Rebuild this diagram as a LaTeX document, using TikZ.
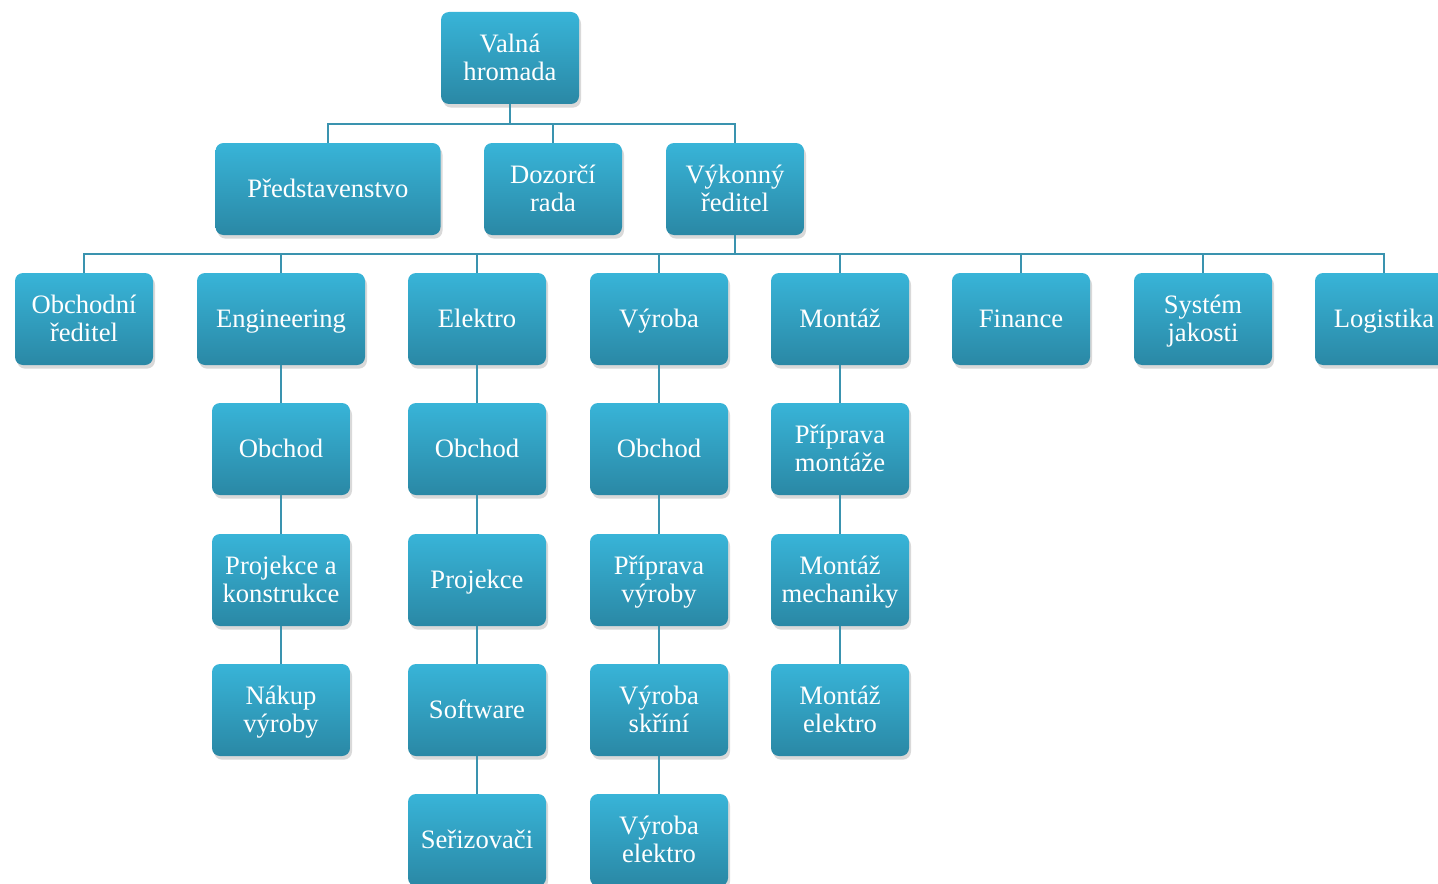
\documentclass[tikz,border=0pt]{standalone}
\usepackage{fontspec}
\setmainfont{Liberation Serif}
\usepackage{tikz}
\usetikzlibrary{shadows}

\definecolor{boxtop}{HTML}{38B4D8}
\definecolor{boxbot}{HTML}{2A88A5}
\definecolor{linkcol}{HTML}{3A93AF}

\tikzset{
  unit/.style={rectangle,rounded corners=4pt,top color=boxtop,bottom color=boxbot,
    draw=none,text=white,align=flush center,text width=64pt,minimum width=69pt,
    minimum height=46pt,inner sep=2pt,font=\fontsize{13.3}{14}\selectfont,
    execute at begin node={\rule{0pt}{12.8pt}},execute at end node=\strut,
    drop shadow={opacity=0.3,shadow xshift=1pt,shadow yshift=-1.8pt}},
  link/.style={draw=linkcol,line width=1pt}
}

\begin{document}
\begin{tikzpicture}[x=0.5pt,y=-0.5pt]
\useasboundingbox (0,0) rectangle (1438,883);
\clip (0,0) rectangle (1438,883);
% top level
\node [unit] (vh) at (510,58) {Valná\\hromada};
\node [unit,text width=106pt,minimum width=112.5pt] (pred) at (328,189) {Představenstvo};
\node [unit] (dozor) at (553,189) {Dozorčí\\rada};
\node [unit] (vyk) at (735,189) {Výkonný\\ředitel};
% departments
\node [unit] (obred) at (84,319) {Obchodní\\ředitel};
\node [unit,text width=80pt,minimum width=84pt] (eng) at (281,319) {Engineering};
\node [unit] (elek) at (477,319) {Elektro};
\node [unit] (vyr) at (659,319) {Výroba};
\node [unit] (mont) at (840,319) {Montáž};
\node [unit] (fin) at (1021,319) {Finance};
\node [unit] (jak) at (1203,319) {Systém\\jakosti};
\node [unit] (log) at (1384,319) {Logistika};
% engineering
\node [unit] (engob) at (281,449) {Obchod};
\node [unit] (engpk) at (281,580) {Projekce a\\konstrukce};
\node [unit] (engnak) at (281,710) {Nákup\\výroby};
% elektro
\node [unit] (elob) at (477,449) {Obchod};
\node [unit] (elpro) at (477,580) {Projekce};
\node [unit] (elsw) at (477,710) {Software};
\node [unit] (elser) at (477,840) {Seřizovači};
% vyroba
\node [unit] (vyob) at (659,449) {Obchod};
\node [unit] (vypri) at (659,580) {Příprava\\výroby};
\node [unit] (vyskr) at (659,710) {Výroba\\skříní};
\node [unit] (vyel) at (659,840) {Výroba\\elektro};
% montaz
\node [unit] (mopri) at (840,449) {Příprava\\montáže};
\node [unit] (momech) at (840,580) {Montáž\\mechaniky};
\node [unit] (moel) at (840,710) {Montáž\\elektro};

% connectors
\coordinate (bus1) at (510,124);
\coordinate (bus2) at (735,254);
\draw [link] (vh.south) -- (bus1);
\foreach \n in {pred,dozor,vyk}
  \draw [link] (\n.north) |- (bus1);
\draw [link] (vyk.south) -- (bus2);
\foreach \n in {obred,eng,elek,vyr,mont,fin,jak,log}
  \draw [link] (\n.north) |- (bus2);
\draw [link] (eng.south) -- (engob.north) (engob.south) -- (engpk.north)
  (engpk.south) -- (engnak.north);
\draw [link] (elek.south) -- (elob.north) (elob.south) -- (elpro.north)
  (elpro.south) -- (elsw.north) (elsw.south) -- (elser.north);
\draw [link] (vyr.south) -- (vyob.north) (vyob.south) -- (vypri.north)
  (vypri.south) -- (vyskr.north) (vyskr.south) -- (vyel.north);
\draw [link] (mont.south) -- (mopri.north) (mopri.south) -- (momech.north)
  (momech.south) -- (moel.north);
\end{tikzpicture}
\end{document}
